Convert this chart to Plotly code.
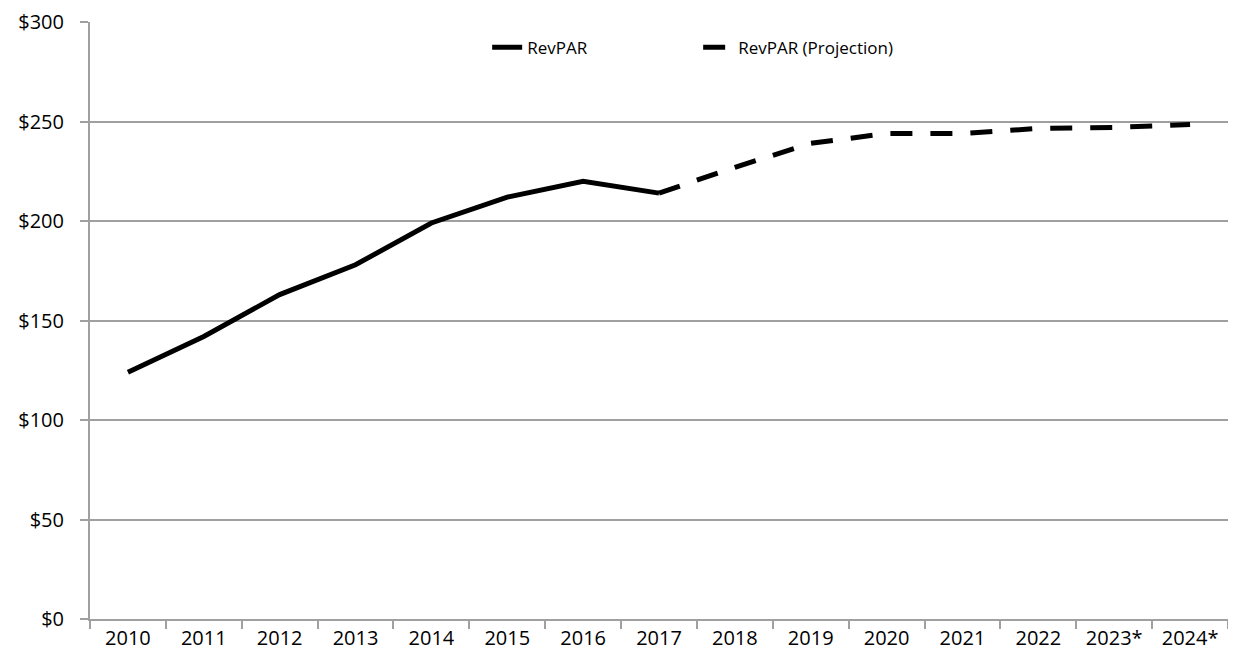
import plotly.graph_objects as go

# Years on the category axis
years = ['2010', '2011', '2012', '2013', '2014', '2015', '2016', '2017',
         '2018', '2019', '2020', '2021', '2022', '2023*', '2024*']

# Actual RevPAR (2010-2017)
actual_years = years[:8]
actual_revpar = [124, 142, 163, 178, 199, 212, 220, 214]

# Projected RevPAR (continues from 2017)
proj_years = years[7:]
proj_revpar = [214, 227, 239, 244, 244, 246.5, 247, 248.5]

y_ticks = [0, 50, 100, 150, 200, 250, 300]
y_labels = ['$0', '$50', '$100', '$150', '$200', '$250', '$300']

fig = go.Figure()

fig.add_trace(go.Scatter(
    x=actual_years, y=actual_revpar,
    mode='lines', name='RevPAR',
    line=dict(color='black', width=5)
))

fig.add_trace(go.Scatter(
    x=proj_years, y=proj_revpar,
    mode='lines', name='RevPAR (Projection)',
    line=dict(color='black', width=5, dash='22px,18px')
))

axis_gray = '#a0a0a0'

fig.update_layout(
    width=1220, height=649,
    margin=dict(l=82, r=0, t=14, b=38),
    plot_bgcolor='white', paper_bgcolor='white',
    font=dict(family='Open Sans', size=20, color='black'),
    showlegend=True,
    legend=dict(
        orientation='h',
        x=0.349, y=0.987, xanchor='left', yanchor='top',
        font=dict(size=17),
        entrywidth=166, entrywidthmode='pixels',
        bgcolor='rgba(0,0,0,0)',
    ),
)

fig.update_xaxes(
    type='category', categoryorder='array', categoryarray=years,
    range=[-0.5, len(years) - 0.5],
    showline=True, linecolor=axis_gray, linewidth=2,
    ticks='outside', tickson='boundaries', ticklen=8, tickcolor=axis_gray, tickwidth=2,
    showgrid=False, tickfont=dict(size=20),
)

fig.update_yaxes(
    range=[0, 300], tickvals=y_ticks, ticktext=y_labels,
    showline=True, linecolor=axis_gray, linewidth=2,
    ticks='outside', ticklen=8, tickcolor=axis_gray, tickwidth=2,
    ticklabelstandoff=12,
    showgrid=True, gridcolor=axis_gray, gridwidth=2,
    zeroline=False, tickfont=dict(size=20),
)

fig.write_html('out.html')
